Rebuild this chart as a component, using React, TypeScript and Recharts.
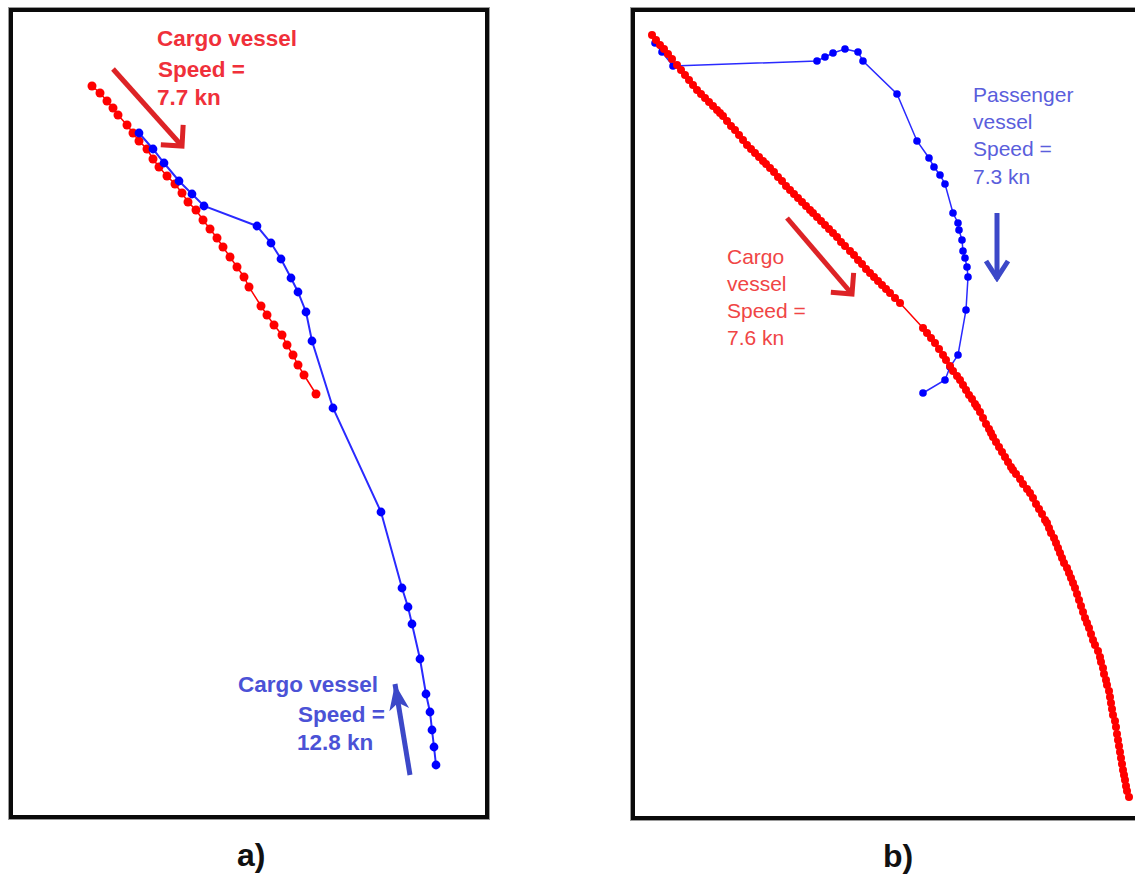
import { ScatterChart, Scatter, XAxis, YAxis, ReferenceLine } from "recharts";

// track fixes (map grid units, y grows downwards)
const cargoSlowA: [number, number][] = [
  [92, 86], [100, 93], [107, 101], [113, 108], [118, 115], [127, 125], [133, 133], [139, 141],
  [147, 149], [153, 159], [159, 167], [167, 176], [175, 184], [182, 193], [188, 202], [196, 210],
  [203, 220], [210, 229], [217, 238], [223, 247], [230, 257], [237, 267], [244, 277], [249, 287],
  [261, 306], [267, 315], [274, 325], [282, 335], [287, 345], [293, 355], [298, 365], [304, 375],
  [316, 394],
];

const cargoFastA: [number, number][] = [
  [139, 133], [153, 149], [164, 163], [179, 181], [192, 194], [204, 206], [257, 226], [271, 243],
  [281, 259], [291, 278], [298, 292], [306, 312], [312, 341], [333, 408], [381, 512], [402, 588],
  [408, 607], [412, 624], [420, 659], [426, 694], [430, 712], [432, 730], [434, 747], [436, 765],
];

const cargoB: [number, number][] = [
  [652, 35], [656, 40], [660, 45], [664, 49], [668, 54], [672, 59], [677, 65], [681, 70],
  [685, 75], [689, 80], [693, 85], [697, 90], [701, 94], [705, 98], [709, 102], [713, 106],
  [717, 110], [720, 113], [723, 116], [727, 121], [731, 126], [735, 130], [739, 135], [743, 140],
  [747, 145], [751, 149], [755, 153], [759, 157], [763, 161], [766, 164], [770, 168], [774, 172],
  [778, 177], [782, 181], [786, 186], [790, 190], [794, 194], [798, 198], [802, 202], [806, 206],
  [810, 210], [813, 213], [817, 217], [821, 221], [825, 225], [829, 229], [833, 233], [837, 237],
  [841, 242], [845, 246], [850, 251], [854, 255], [858, 260], [862, 264], [866, 269], [870, 273],
  [874, 277], [878, 281], [882, 285], [886, 289], [890, 293], [895, 298], [900, 303], [923, 328],
  [927, 333], [931, 338], [935, 343], [939, 349], [943, 355], [946, 360], [950, 366], [953, 371],
  [957, 376], [960, 380], [963, 385], [966, 390], [969, 395], [972, 399], [975, 404], [977, 407],
  [980, 412], [983, 418], [986, 424], [989, 429], [991, 433], [993, 437], [996, 442], [999, 447],
  [1002, 452], [1005, 457], [1008, 462], [1011, 467], [1013, 470], [1016, 474], [1020, 479], [1023, 484],
  [1027, 489], [1030, 493], [1033, 498], [1036, 504], [1039, 509], [1042, 514], [1045, 520], [1047, 523],
  [1049, 528], [1051, 533], [1054, 538], [1056, 543], [1058, 548], [1060, 553], [1062, 558], [1064, 563],
  [1067, 568], [1069, 573], [1071, 578], [1073, 583], [1075, 588], [1077, 594], [1079, 600], [1081, 606],
  [1083, 612], [1085, 618], [1087, 623], [1089, 628], [1091, 634], [1093, 640], [1095, 645], [1098, 651],
  [1100, 657], [1101, 662], [1103, 668], [1104, 674], [1106, 680], [1107, 685], [1109, 691], [1110, 697],
  [1111, 703], [1112, 709], [1113, 715], [1115, 721], [1116, 727], [1117, 734], [1118, 740], [1119, 746],
  [1120, 752], [1121, 758], [1122, 764], [1123, 770], [1124, 775], [1125, 780], [1126, 786], [1127, 791],
  [1129, 797],
];

const passengerB: [number, number][] = [
  [655, 43], [662, 52], [673, 66], [817, 61], [825, 57], [833, 53], [845, 49], [858, 52],
  [863, 61], [897, 94], [917, 141], [929, 158], [934, 167], [940, 175], [945, 184], [953, 213],
  [958, 223], [959, 230], [962, 240], [963, 251], [965, 258], [967, 267], [968, 277], [966, 310],
  [958, 355], [950, 367], [945, 380], [923, 393],
];

// direction arrows [from, to]
const arrowCargoA: [number, number][] = [[113, 69], [182, 146]];
const arrowFastA: [number, number][] = [[410, 775], [395, 684]];
const arrowCargoB: [number, number][] = [[787, 218], [852, 294]];
const arrowPassB: [number, number][] = [[997, 213], [997, 279]];

const toPts = (arr: [number, number][]) => arr.map(([x, y]) => ({ x, y }));

const RED = "#ff0000";
const BLUE = "#0000ff";

const dot = (r: number, fill: string) => (p: any) => <circle cx={p.cx} cy={p.cy} r={r} fill={fill} />;

const font = '"Liberation Sans", Arial, Helvetica, sans-serif';

const Txt = ({ x, base, size, bold, color, children }: any) => (
  <div
    style={{
      position: "absolute",
      left: x,
      top: base - Math.round(size * 1.02),
      fontFamily: font,
      fontSize: size,
      fontWeight: bold ? 700 : 400,
      color,
      lineHeight: `${Math.round(size * 1.2)}px`,
      whiteSpace: "nowrap",
    }}
  >
    {children}
  </div>
);

const Markers = ({ id }: { id: string }) => (
  <defs>
    <marker id={`${id}-red`} viewBox="0 0 30 40" refX={24} refY={20} markerWidth={30} markerHeight={40} markerUnits="userSpaceOnUse" orient="auto">
      <path d="M9 5 L24 20 L9 35" fill="none" stroke="#dd2326" strokeWidth={5} />
    </marker>
    <marker id={`${id}-blueA`} viewBox="0 0 30 28" refX={28} refY={14} markerWidth={30} markerHeight={28} markerUnits="userSpaceOnUse" orient="auto">
      <path d="M2 4 L28 14 L2 24 L9 14 Z" fill="#3c48c8" />
    </marker>
    <marker id={`${id}-blueB`} viewBox="0 0 26 30" refX={23} refY={15} markerWidth={26} markerHeight={30} markerUnits="userSpaceOnUse" orient="auto">
      <path d="M5 4 L22 15 L5 26" fill="none" stroke="#3c48c8" strokeWidth={5} />
    </marker>
  </defs>
);

const boxStyle = (left: number, top: number, width: number, height: number): React.CSSProperties => ({
  position: "absolute",
  left,
  top,
  width,
  height,
  boxSizing: "border-box",
  border: "4px solid #0a0a0a",
  outline: "1px solid #9a9a9a",
  background: "#fff",
});

export default function App() {
  return (
    <div style={{ position: "absolute", left: 0, top: 0, width: 1135, height: 882, overflow: "hidden", background: "#fff" }}>
      {/* panel a */}
      <div style={boxStyle(9, 8, 480, 811)}>
        <ScatterChart width={472} height={803} margin={{ top: 0, right: 0, bottom: 0, left: 0 }}>
          <Markers id="a" />
          <XAxis type="number" dataKey="x" domain={[13, 485]} hide allowDataOverflow />
          <YAxis type="number" dataKey="y" domain={[12, 815]} reversed hide allowDataOverflow />
          <Scatter data={toPts(cargoSlowA)} fill={RED} line={{ stroke: RED, strokeWidth: 1.5 }} shape={dot(4.5, RED)} isAnimationActive={false} />
          <Scatter data={toPts(cargoFastA)} fill={BLUE} line={{ stroke: "#2a2aff", strokeWidth: 2 }} shape={dot(4.4, BLUE)} isAnimationActive={false} />
          <ReferenceLine segment={toPts(arrowCargoA)} stroke="#dd2326" strokeWidth={5} markerEnd="url(#a-red)" ifOverflow="visible" />
          <ReferenceLine segment={toPts(arrowFastA)} stroke="#3c48c8" strokeWidth={5} markerEnd="url(#a-blueA)" ifOverflow="visible" />
        </ScatterChart>
      </div>

      {/* panel b */}
      <div style={boxStyle(631, 8, 520, 812)}>
        <ScatterChart width={512} height={804} margin={{ top: 0, right: 0, bottom: 0, left: 0 }}>
          <Markers id="b" />
          <XAxis type="number" dataKey="x" domain={[635, 1147]} hide allowDataOverflow />
          <YAxis type="number" dataKey="y" domain={[12, 816]} reversed hide allowDataOverflow />
          <Scatter data={toPts(passengerB)} fill={BLUE} line={{ stroke: "#2a2aff", strokeWidth: 1.5 }} shape={dot(3.8, BLUE)} isAnimationActive={false} />
          <Scatter data={toPts(cargoB)} fill={RED} line={{ stroke: RED, strokeWidth: 1.5 }} shape={dot(4, RED)} isAnimationActive={false} />
          <ReferenceLine segment={toPts(arrowCargoB)} stroke="#dd2326" strokeWidth={5} markerEnd="url(#b-red)" ifOverflow="visible" />
          <ReferenceLine segment={toPts(arrowPassB)} stroke="#3c48c8" strokeWidth={5} markerEnd="url(#b-blueB)" ifOverflow="visible" />
        </ScatterChart>
      </div>

      {/* annotations */}
      <Txt x={157} base={48} size={22.5} bold color="#f0303a">Cargo vessel</Txt>
      <Txt x={158} base={79} size={22.5} bold color="#f0303a">Speed =</Txt>
      <Txt x={157} base={107} size={22.5} bold color="#f0303a">7.7 kn</Txt>

      <Txt x={238} base={694} size={22.5} bold color="#4b52d6">Cargo vessel</Txt>
      <Txt x={298} base={724} size={22.5} bold color="#4b52d6">Speed =</Txt>
      <Txt x={297} base={752} size={22.5} bold color="#4b52d6">12.8 kn</Txt>

      <Txt x={973} base={103} size={21} color="#5a5edc">Passenger</Txt>
      <Txt x={973} base={130} size={21} color="#5a5edc">vessel</Txt>
      <Txt x={973} base={157} size={21} color="#5a5edc">Speed =</Txt>
      <Txt x={973} base={185} size={21} color="#5a5edc">7.3 kn</Txt>

      <Txt x={727} base={265} size={21} color="#f04545">Cargo</Txt>
      <Txt x={727} base={292} size={21} color="#f04545">vessel</Txt>
      <Txt x={727} base={319} size={21} color="#f04545">Speed =</Txt>
      <Txt x={727} base={346} size={21} color="#f04545">7.6 kn</Txt>

      <Txt x={237} base={869} size={32} bold color="#111">a)</Txt>
      <Txt x={883} base={870} size={32} bold color="#111">b)</Txt>
    </div>
  );
}
